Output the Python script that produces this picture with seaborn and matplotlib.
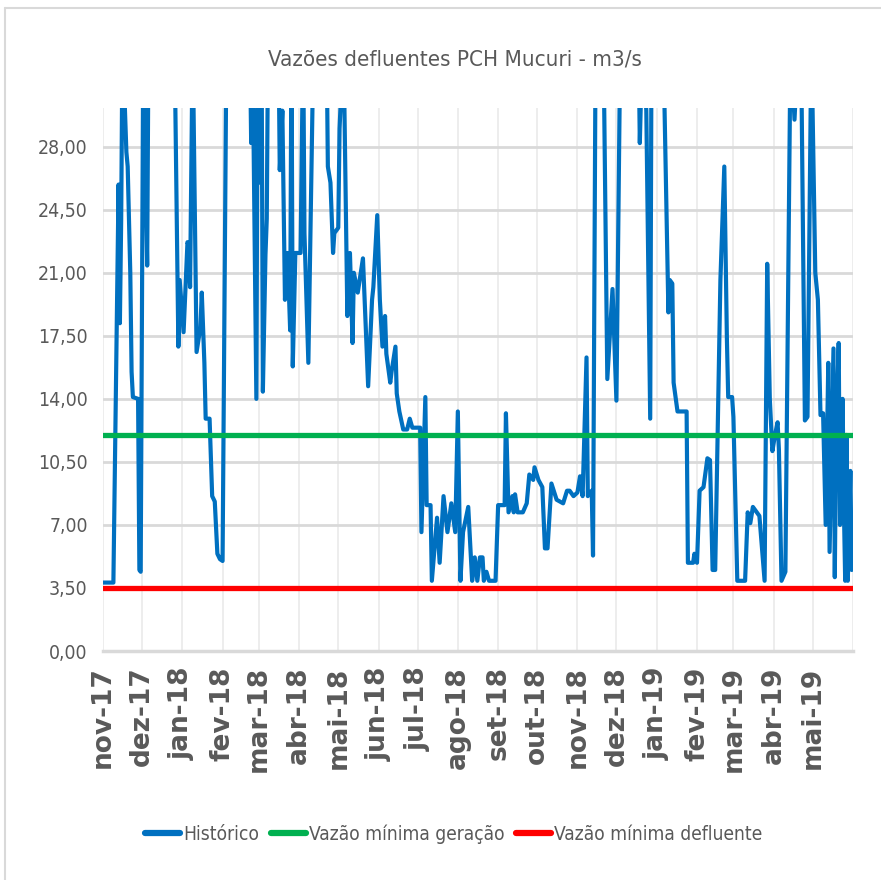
import numpy as np
import pandas as pd
import matplotlib
matplotlib.use("Agg")
import matplotlib.pyplot as plt
from matplotlib.lines import Line2D
from matplotlib import font_manager as fm
import seaborn as sns

# ---------------- data ----------------
start_date = "2017-11-01"
end_date = "2019-06-01"
title = "Vazões defluentes PCH Mucuri - m3/s"

# days since start_date and observed outflow (m3/s); values above 30 are clipped by the axis
hist_day = [0, 8, 12, 13, 14, 15, 18, 19, 21, 22, 23, 27, 28, 29, 31, 32, 34, 35, 55, 58,
            59, 62, 65, 66, 67, 69, 72, 75, 76, 78, 79, 82, 84, 86, 88, 90, 92, 95, 113, 114,
            115, 118, 119, 121, 122, 123, 125, 126, 127, 135, 136, 138, 140, 142, 144, 145, 146, 148, 152, 154,
            155, 158, 162, 172, 173, 175, 177, 178, 181, 182, 185, 188, 190, 192, 193, 196, 200, 204, 207, 208,
            211, 213, 215, 217, 218, 221, 222, 225, 226, 228, 231, 234, 236, 238, 244, 245, 248, 249, 252, 253,
            257, 259, 262, 265, 268, 271, 273, 275, 277, 281, 284, 286, 288, 290, 292, 293, 295, 297, 302, 304,
            309, 310, 312, 315, 316, 317, 319, 323, 326, 328, 331, 332, 335, 338, 340, 342, 345, 349, 354, 357,
            359, 362, 365, 367, 369, 372, 373, 376, 377, 379, 385, 388, 392, 395, 398, 412, 413, 415, 418, 421,
            422, 431, 435, 436, 438, 439, 442, 449, 450, 454, 455, 457, 459, 462, 465, 467, 469, 471, 475, 478,
            480, 481, 484, 485, 488, 494, 496, 498, 500, 503, 505, 509, 511, 513, 515, 517, 519, 520, 522, 525,
            529, 532, 535, 537, 540, 542, 545, 548, 550, 552, 554, 556, 558, 559, 562, 563, 564, 566, 567, 569,
            570, 571, 572, 573, 575, 576]
hist_value = [3.8, 3.8, 25.9, 18.2, 24.0, 34.0, 27.7, 26.9, 21.0, 15.5, 14.1, 14.0, 4.5, 4.4, 34.0, 30.0, 21.4, 34.0, 34.0, 16.9,
              20.6, 17.7, 22.7, 22.5, 20.2, 34.0, 16.6, 18.0, 19.9, 16.0, 12.9, 12.9, 8.6, 8.3, 5.4, 5.1, 5.0, 34.0, 34.0, 28.2,
              34.0, 14.0, 34.0, 26.0, 34.0, 14.4, 22.0, 24.0, 34.0, 34.0, 26.7, 30.0, 19.5, 22.1, 17.8, 34.0, 15.8, 22.1, 22.1, 34.0,
              23.2, 16.0, 34.0, 34.0, 26.9, 26.0, 22.1, 23.2, 23.5, 29.0, 34.0, 18.6, 22.1, 17.1, 21.0, 19.9, 21.8, 14.7, 19.5, 20.2,
              24.2, 19.5, 16.9, 18.6, 16.5, 14.9, 15.5, 16.9, 14.3, 13.3, 12.3, 12.3, 12.9, 12.4, 12.4, 6.6, 14.1, 8.1, 8.1, 3.9,
              7.4, 4.9, 8.6, 6.6, 8.2, 6.6, 13.3, 3.9, 6.6, 8.0, 3.9, 5.2, 3.9, 5.2, 5.2, 3.9, 4.4, 3.9, 3.9, 8.1,
              8.1, 13.2, 7.7, 8.6, 7.7, 8.7, 7.7, 7.7, 8.2, 9.8, 9.5, 10.2, 9.5, 9.1, 5.7, 5.7, 9.3, 8.4, 8.2, 8.9,
              8.9, 8.6, 8.8, 9.7, 8.6, 16.3, 8.6, 8.9, 5.3, 34.0, 34.0, 15.1, 20.1, 13.9, 34.0, 34.0, 28.2, 34.0, 30.0, 12.9,
              34.0, 34.0, 18.8, 20.6, 20.4, 14.9, 13.3, 13.3, 4.9, 4.9, 5.4, 4.9, 8.9, 9.1, 10.7, 10.6, 4.5, 4.5, 20.6, 26.9,
              17.3, 14.1, 14.1, 13.0, 3.9, 3.9, 7.7, 7.1, 8.0, 7.7, 7.5, 3.9, 21.5, 14.0, 11.1, 12.0, 12.7, 11.2, 3.9, 4.4,
              34.0, 29.5, 34.0, 34.0, 12.8, 13.0, 34.0, 21.0, 19.5, 13.1, 13.2, 7.0, 16.0, 5.5, 16.8, 4.1, 12.0, 17.1, 7.0, 14.0,
              8.0, 3.9, 12.0, 3.9, 10.0, 4.5]

min_geracao = 12.0
min_defluente = 3.5

series_names = ["Histórico", "Vazão mínima geração", "Vazão mínima defluente"]
series_colors = ["#0070C0", "#00B050", "#FF0000"]

month_labels = ["nov-17", "dez-17", "jan-18", "fev-18", "mar-18", "abr-18", "mai-18",
                "jun-18", "jul-18", "ago-18", "set-18", "out-18", "nov-18", "dez-18",
                "jan-19", "fev-19", "mar-19", "abr-19", "mai-19"]
y_ticks = [0, 3.5, 7, 10.5, 14, 17.5, 21, 24.5, 28]
y_max = 30.15

# ---------------- style ----------------
sns.set_theme(style="white")

# pick a narrow sans font if one is installed, otherwise Roboto
narrow_path = None
for f in fm.fontManager.ttflist:
    fn = f.fname.replace("\\", "/").split("/")[-1].lower()
    if fn in ("liberationsansnarrow-regular.ttf", "dejavusanscondensed.ttf"):
        narrow_path = f.fname
        if "liberation" in fn:
            break
if narrow_path is not None:
    txt_font = fm.FontProperties(fname=narrow_path)
else:
    txt_font = fm.FontProperties(family=["Roboto", "DejaVu Sans"])
plt.rcParams['font.family'] = ["Roboto", "DejaVu Sans"]
grey_txt = "#595959"

fig = plt.figure(figsize=(8.81, 8.80), dpi=100)
renderer = fig.canvas.get_renderer()


def fitted_size(s, target_px, base=20.0):
    fp = txt_font.copy()
    fp.set_size(base)
    t = fig.text(0, 0, s, fontproperties=fp)
    w = t.get_window_extent(renderer).width
    t.remove()
    return base * target_px / w


title_size = fitted_size(title, 373)
ytick_size = min(fitted_size("28,00", 50), 17.5)
legend_size = min(fitted_size("Vazão mínima defluente", 208), 17.0)

ax = fig.add_axes([0.1169, 0.2602, 0.8513, 0.6171])

base = pd.Timestamp(start_date)
df_hist = pd.DataFrame({"data": base + pd.to_timedelta(hist_day, unit="D"), "vazao": hist_value})
span = pd.to_datetime([start_date, end_date])
df_ger = pd.DataFrame({"data": span, "vazao": [min_geracao] * 2})
df_def = pd.DataFrame({"data": span, "vazao": [min_defluente] * 2})

sns.lineplot(data=df_hist, x="data", y="vazao", ax=ax, color=series_colors[0], lw=3.0,
             label=series_names[0], estimator=None, zorder=3)
sns.lineplot(data=df_ger, x="data", y="vazao", ax=ax, color=series_colors[1], lw=3.8,
             label=series_names[1], estimator=None, zorder=4)
sns.lineplot(data=df_def, x="data", y="vazao", ax=ax, color=series_colors[2], lw=3.8,
             label=series_names[2], estimator=None, zorder=5)

ax.set_xlim(span[0], span[1])
ax.set_ylim(0, y_max)
ax.set_xlabel("")
ax.set_ylabel("")

month_ticks = pd.date_range(start_date, end_date, freq="MS")
ax.set_xticks(month_ticks)
ax.set_xticklabels(month_labels + [""] * (len(month_ticks) - len(month_labels)),
                   rotation=90, fontsize=19, fontweight="bold", color=grey_txt,
                   family=['DejaVu Sans'])
ax.set_yticks(y_ticks)
yfp = txt_font.copy()
yfp.set_size(ytick_size)
ax.set_yticklabels([f"{v:.2f}".replace(".", ",") for v in y_ticks], fontproperties=yfp, color=grey_txt)

ax.yaxis.grid(True, color="#d9d9d9", lw=2.0)
ax.xaxis.grid(True, color="#ececec", lw=1.3)
ax.set_axisbelow(True)
for s in ["top", "right", "left"]:
    ax.spines[s].set_visible(False)
ax.spines["bottom"].set_color("#d9d9d9")
ax.spines["bottom"].set_linewidth(2.5)
ax.tick_params(axis="x", length=8, width=1.5, color="#d9d9d9", direction="out", pad=3)
ax.tick_params(axis="y", length=0, pad=11)

lfp = txt_font.copy()
lfp.set_size(legend_size)
px_per_em = legend_size * 100 / 72
leg = ax.legend(loc="center", bbox_to_anchor=(0.515, 0.052), bbox_transform=fig.transFigure,
                ncol=3, frameon=False, prop=lfp, handlelength=35 / px_per_em,
                handletextpad=3 / px_per_em, columnspacing=12 / px_per_em, labelcolor=grey_txt)
for h in leg.get_lines():
    h.set_linewidth(4.5)

tfp = txt_font.copy()
tfp.set_size(title_size)
fig.text(0.516, 0.932, title, ha="center", va="center", fontproperties=tfp, color=grey_txt)

# chart area border (partial, as in the reference)
fig.add_artist(Line2D([5 / 881, 5 / 881], [0, 1 - 8 / 880], transform=fig.transFigure,
                      color="#d9d9d9", lw=1.5))
fig.add_artist(Line2D([5 / 881, 1], [1 - 8 / 880, 1 - 8 / 880], transform=fig.transFigure,
                      color="#d9d9d9", lw=1.5))

fig.savefig("out.png", dpi=100)
